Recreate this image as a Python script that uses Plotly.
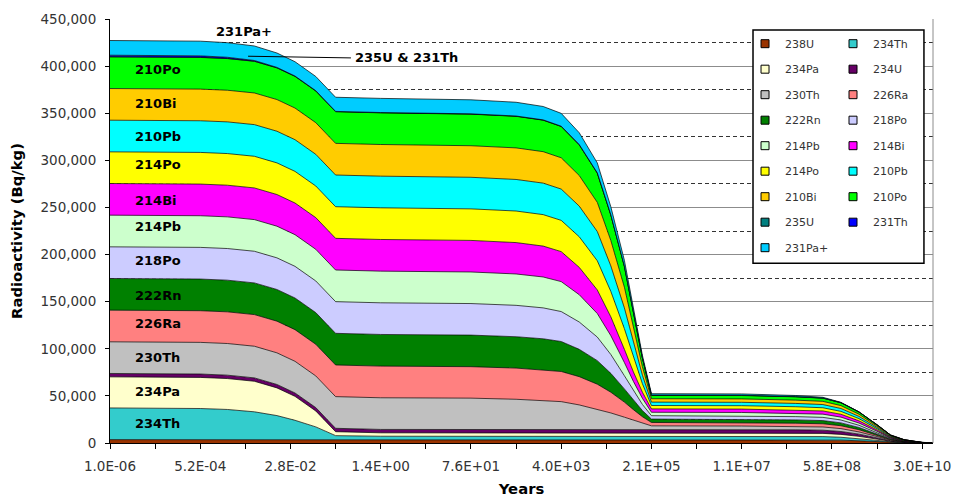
import plotly.graph_objects as go

# position along the (evenly spaced) category axis: one unit per labelled tick
x_cat = [0, 1.0, 1.3, 1.6, 1.85, 2.05, 2.28, 2.5, 3.0, 4.0, 4.5, 4.8, 5.0, 5.2, 5.4, 5.55,
         5.7, 5.8, 5.9, 6.0, 7.0, 7.6, 7.9, 8.1, 8.3, 8.5, 8.65, 8.8, 9.0, 9.12]
tick_labels = ["1.0E-06", "5.2E-04", "2.8E-02", "1.4E+00", "7.6E+01",
               "4.0E+03", "2.1E+05", "1.1E+07", "5.8E+08", "3.0E+10"]

# activity of each nuclide (Bq/kg)
u238 = [3600, 3600, 3600, 3600, 3600, 3600, 3600, 3600, 3600, 3600, 3600, 3600, 3600, 3600, 3600,
        3600, 3600, 3600, 3600, 3600, 3600, 3500, 3400, 3050, 2350, 1380, 600, 250, 40, 20]
th234 = [33600, 33000, 32000, 29500, 25500, 20500, 13500, 4200, 3600, 3600, 3600, 3600, 3600, 3600, 3600,
         3600, 3600, 3600, 3600, 3600, 3600, 3500, 3400, 3050, 2350, 1380, 600, 250, 40, 20]
pa234 = [33000, 33000, 32800, 32400, 29400, 25400, 16900, 4200, 3600, 3600, 3600, 3600, 3600, 3600, 3600,
         3600, 3600, 3600, 3600, 3600, 3600, 3500, 3400, 3050, 2350, 1380, 600, 250, 40, 20]
u234 = [3600, 3600, 3600, 3600, 3600, 3600, 3600, 3600, 3600, 3600, 3600, 3600, 3600, 3600, 3600,
        3600, 3600, 3600, 3600, 3600, 3600, 3500, 3400, 3050, 2350, 1380, 600, 250, 40, 20]
th230 = [33600, 33600, 33600, 33600, 33600, 33600, 33600, 33600, 33600, 33200, 32000, 30800, 29500, 26000, 21500,
         17500, 13000, 10000, 7000, 3800, 3600, 3500, 3400, 3050, 2350, 1380, 600, 250, 40, 20]
ra226 = [33600, 33600, 33600, 33600, 33600, 33600, 33600, 33600, 33600, 33400, 33100, 32600, 32000, 30000, 26500,
         22000, 16000, 11000, 6500, 3600, 3600, 3500, 3400, 3050, 2350, 1380, 600, 250, 40, 20]
rn222 = [33600, 33600, 33600, 33600, 33600, 33600, 33600, 33600, 33600, 33500, 33300, 32800, 31800, 29000, 25000,
         20000, 14000, 10000, 6500, 3600, 3600, 3500, 3400, 3050, 2350, 1380, 600, 250, 40, 20]
po218 = [33600, 33600, 33600, 33600, 33600, 33600, 33600, 33600, 33600, 33500, 33300, 32800, 31800, 29000, 25000,
         20000, 14000, 10000, 6500, 3600, 3600, 3500, 3400, 3050, 2350, 1380, 600, 250, 40, 20]
pb214 = [33600, 33600, 33600, 33600, 33600, 33600, 33600, 33600, 33600, 33500, 33300, 32800, 31800, 29000, 25000,
         20000, 14000, 10000, 6500, 3600, 3600, 3500, 3400, 3050, 2350, 1380, 600, 250, 40, 20]
bi214 = [33600, 33600, 33600, 33600, 33600, 33600, 33600, 33600, 33600, 33500, 33300, 32800, 31800, 29000, 25000,
         20000, 14000, 10000, 6500, 3600, 3600, 3500, 3400, 3050, 2350, 1380, 600, 250, 40, 20]
po214 = [33600, 33600, 33600, 33600, 33600, 33600, 33600, 33600, 33600, 33500, 33500, 33400, 33200, 32500, 31000,
         27000, 22000, 15500, 9000, 3600, 3600, 3500, 3400, 3050, 2350, 1380, 600, 250, 40, 20]
pb210 = [33600, 33600, 33600, 33600, 33600, 33600, 33600, 33600, 33600, 33500, 33500, 33400, 33200, 32500, 31000,
         27000, 22000, 15500, 9000, 3600, 3600, 3500, 3400, 3050, 2350, 1380, 600, 250, 40, 20]
bi210 = [33600, 33600, 33600, 33600, 33600, 33600, 33600, 33600, 33600, 33500, 33500, 33400, 33200, 32500, 31000,
         27000, 22000, 15500, 9000, 3600, 3600, 3500, 3400, 3050, 2350, 1380, 600, 250, 40, 20]
po210 = [33600, 33600, 33600, 33600, 33600, 33600, 33600, 33600, 33600, 33500, 33500, 33400, 33200, 32500, 31000,
         27000, 22000, 15500, 9000, 3600, 3600, 3500, 3400, 3050, 2350, 1380, 600, 250, 40, 20]
u235 = [170, 170, 170, 170, 170, 170, 170, 170, 170, 170, 170, 170, 170, 170, 170,
        170, 170, 170, 170, 170, 170, 140, 90, 45, 15, 3, 0, 0, 0, 0]
th231 = [1600, 1500, 1200, 700, 350, 200, 170, 170, 170, 170, 170, 170, 170, 170, 170,
         170, 170, 170, 170, 170, 170, 140, 90, 45, 15, 3, 0, 0, 0, 0]
pa231 = [15600, 15600, 15500, 15400, 15300, 15200, 15100, 15000, 15000, 14900, 14600, 14200, 13600, 12500, 10500,
         8500, 6200, 4500, 2800, 1400, 1360, 1120, 720, 360, 120, 24, 0, 0, 0, 0]

names = ["238U", "234Th", "234Pa", "234U", "230Th", "226Ra", "222Rn", "218Po", "214Pb",
         "214Bi", "214Po", "210Pb", "210Bi", "210Po", "235U", "231Th", "231Pa+"]
values = [u238, th234, pa234, u234, th230, ra226, rn222, po218, pb214,
          bi214, po214, pb210, bi210, po210, u235, th231, pa231]
colors = ["#993300", "#33CCCC", "#FFFFCC", "#660066", "#C0C0C0", "#FF8080", "#008000", "#CCCCFF", "#CCFFCC",
          "#FF00FF", "#FFFF00", "#00FFFF", "#FFCC00", "#00FF00", "#008080", "#0000FF", "#00CCFF"]

fig = go.Figure()
for name, vals, col in zip(names, values, colors):
    fig.add_trace(go.Scatter(
        x=x_cat, y=vals, name=name, stackgroup="one", mode="lines",
        line=dict(color="black", width=0.7), fillcolor=col,
        showlegend=False, hoverinfo="skip"))

# legend entries (two columns, filled row by row like the original)
for i, (name, col) in enumerate(zip(names, colors)):
    fig.add_trace(go.Scatter(
        x=[None], y=[None], mode="markers", name=name,
        legend="legend" if i % 2 == 0 else "legend2", legendgroup=name,
        marker=dict(symbol="square", size=8, color=col, line=dict(color="black", width=1)),
        showlegend=True, hoverinfo="skip"))

bold = dict(family="DejaVu Sans", size=13, color="black", weight="bold")
band_labels = [("210Po", 395900), ("210Bi", 360800), ("210Pb", 325100), ("214Po", 296000),
               ("214Bi", 257800), ("214Pb", 230200), ("218Po", 194000), ("222Rn", 156900),
               ("226Ra", 127200), ("230Th", 91000), ("234Pa", 54900), ("234Th", 21200)]
annotations = [dict(x=0.26, y=yv, xref="x", yref="y", text=t, showarrow=False,
                    xanchor="left", yanchor="middle", font=bold) for t, yv in band_labels]
annotations.append(dict(x=1.48, y=436500, xref="x", yref="y", text="231Pa+", showarrow=False,
                        xanchor="center", yanchor="middle", font=bold))
annotations.append(dict(x=2.69, y=408700, xref="x", yref="y", text="235U &amp; 231Th", showarrow=False,
                        xanchor="left", yanchor="middle", font=bold))

shapes = [
    dict(type="line", xref="paper", yref="paper", x0=1, x1=1, y0=0, y1=1,
         line=dict(color="#8c8c8c", width=1)),
    dict(type="line", xref="x", yref="y", x0=1.53, y0=410500, x1=2.67, y1=408700,
         line=dict(color="black", width=1), layer="above"),
    dict(type="rect", xref="paper", yref="paper", x0=0.7813, x1=0.989, y0=0.4241, y1=0.974,
         fillcolor="white", line=dict(color="black", width=1.5), layer="above"),
]

legend_style = dict(xanchor="left", yanchor="top", bgcolor="rgba(0,0,0,0)", borderwidth=0,
                    tracegroupgap=6.5, font=dict(family="DejaVu Sans", size=11, color="#333"),
                    itemclick=False, itemdoubleclick=False)

tickvals = [i * 0.5 for i in range(19)]
ticktext = []
for i in range(19):
    ticktext.append(tick_labels[i // 2] if i % 2 == 0 else "")

title_font = dict(family="DejaVu Sans", size=14.8, color="black", weight="bold")
fig.update_layout(
    width=953, height=499,
    margin=dict(l=110, r=20, t=19, b=56, pad=0),
    paper_bgcolor="white", plot_bgcolor="white",
    font=dict(family="DejaVu Sans", size=13.5, color="#333"),
    legend=dict(x=0.7716, y=0.976, **legend_style),
    legend2=dict(x=0.8785, y=0.976, **legend_style),
    annotations=annotations, shapes=shapes,
    xaxis=dict(range=[0, 9.12], tickmode="array", tickvals=tickvals, ticktext=ticktext,
               ticks="outside", ticklen=5, tickcolor="black", tickwidth=1, automargin=False,
               showline=True, linecolor="black", linewidth=1, showgrid=False, zeroline=False,
               ticklabelstandoff=6,
               title=dict(text="Years", font=title_font, standoff=10)),
    yaxis=dict(range=[0, 450000], tickmode="linear", tick0=0, dtick=50000, tickformat=",d",
               ticks="outside", ticklen=4, tickcolor="black", tickwidth=1, automargin=False,
               showline=True, linecolor="black", linewidth=1, zeroline=False,
               showgrid=True, gridcolor="#8c8c8c", gridwidth=1,
               minor=dict(tick0=25000, dtick=50000, showgrid=True, gridcolor="#333333",
                          griddash="4px,3px", gridwidth=1, ticks=""),
               ticklabelstandoff=6,
               title=dict(text="Radioactivity (Bq/kg)", font=title_font, standoff=14)),
)

# remove the default page margin so the 953x499 figure fills the window exactly
fig.write_html("out.html", config={"displayModeBar": False},
               post_script="document.body.style.margin='0';document.body.style.overflow='hidden';")
